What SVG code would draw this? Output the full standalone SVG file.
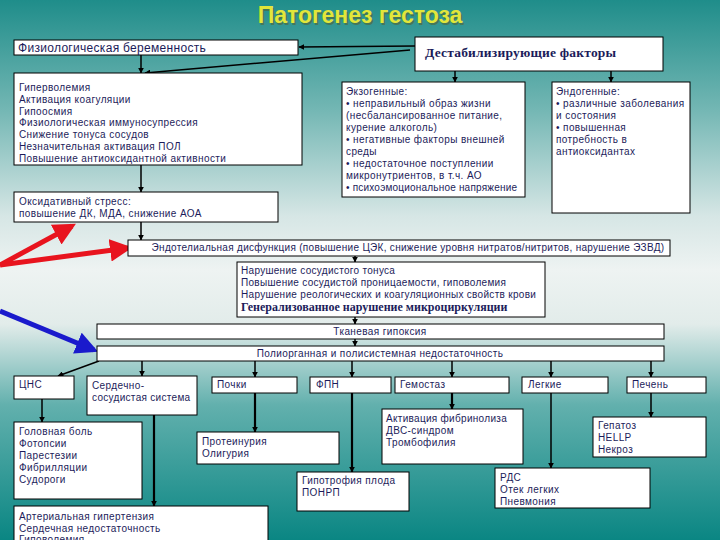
<svg xmlns="http://www.w3.org/2000/svg" width="720" height="540" viewBox="0 0 720 540">
<defs>
<linearGradient id="bg" x1="0" y1="0" x2="0" y2="1">
<stop offset="0" stop-color="#1f8d8a"/>
<stop offset="0.2" stop-color="#72b6b3"/>
<stop offset="0.4" stop-color="#d6e6e5"/>
<stop offset="0.5" stop-color="#eef3f2"/>
<stop offset="0.6" stop-color="#e2ecea"/>
<stop offset="0.75" stop-color="#62b0ad"/>
<stop offset="1" stop-color="#0a8683"/>
</linearGradient>
<marker id="ah" viewBox="0 0 10 10" refX="9" refY="5" markerWidth="6" markerHeight="6" markerUnits="userSpaceOnUse" orient="auto">
<path d="M0,0 L10,5 L0,10 z" fill="#000"/>
</marker>
<marker id="ahr" viewBox="0 0 10 10" refX="8" refY="5" markerWidth="4.5" markerHeight="4.5" orient="auto">
<path d="M0,0 L10,5 L0,10 z" fill="#e8141e"/>
</marker>
<marker id="ahb" viewBox="0 0 10 10" refX="8" refY="5" markerWidth="4.5" markerHeight="4.5" orient="auto">
<path d="M0,0 L10,5 L0,10 z" fill="#1a1acc"/>
</marker>
<style>
.box{fill:#fff;stroke:#000;stroke-width:1}
.t{font-family:"Liberation Sans",Arial,sans-serif;font-size:10px;fill:#1c1c5a;letter-spacing:0.4px}
.s{font-family:"Liberation Serif","Times New Roman",serif;font-weight:bold;fill:#1c1c5a}
.c{stroke:#000;stroke-width:1.5;fill:none;marker-end:url(#ah)}
.ct{stroke:#000;stroke-width:2.2;fill:none;marker-end:url(#ah)}
.mid{text-anchor:middle}
</style>
</defs>
<rect width="720" height="540" fill="url(#bg)"/>
<text x="360" y="23" text-anchor="middle" font-family="Liberation Sans,Arial,sans-serif" font-size="23" font-weight="bold" fill="#5a5a20" opacity="0.5" transform="translate(1.5,1.5)">Патогенез гестоза</text>
<text x="360" y="23" text-anchor="middle" font-family="Liberation Sans,Arial,sans-serif" font-size="23" font-weight="bold" fill="#e2e63a">Патогенез гестоза</text>

<g id="connectors">
<line class="c" x1="415" y1="46" x2="299" y2="47"/>
<line class="c" x1="410" y1="50" x2="145" y2="73"/>
<line class="c" x1="141" y1="55" x2="141" y2="73"/>
<line class="c" x1="455" y1="71" x2="455" y2="82"/>
<line class="c" x1="611" y1="71" x2="611" y2="82"/>
<line class="c" x1="141" y1="165" x2="141" y2="192"/>
<line class="c" x1="141" y1="222" x2="141" y2="240"/>
<line class="c" x1="355" y1="256" x2="355" y2="262"/>
<line class="c" x1="355" y1="317" x2="355" y2="324"/>
<line class="c" x1="355" y1="339" x2="355" y2="346"/>
<line class="c" x1="99" y1="361" x2="58" y2="376"/>
<line class="c" x1="142" y1="361" x2="142" y2="376"/>
<line class="c" x1="255" y1="361" x2="255" y2="377"/>
<line class="c" x1="352" y1="361" x2="352" y2="377"/>
<line class="c" x1="452" y1="361" x2="452" y2="377"/>
<line class="c" x1="551" y1="361" x2="551" y2="377"/>
<line class="c" x1="651" y1="361" x2="651" y2="377"/>
<line class="c" x1="42" y1="399" x2="42" y2="422"/>
<line class="ct" x1="154" y1="415" x2="154" y2="506"/>
<line class="ct" x1="255" y1="393" x2="255" y2="432"/>
<line class="ct" x1="352" y1="393" x2="352" y2="472"/>
<line class="ct" x1="452" y1="393" x2="452" y2="409"/>
<line class="c" x1="551" y1="393" x2="551" y2="468"/>
<line class="c" x1="651" y1="393" x2="651" y2="417"/>
<line stroke="#e8141e" stroke-width="5" marker-end="url(#ahr)" x1="0" y1="265" x2="72" y2="226"/>
<line stroke="#e8141e" stroke-width="5" marker-end="url(#ahr)" x1="0" y1="265" x2="128" y2="248"/>
<line stroke="#1a1acc" stroke-width="5" marker-end="url(#ahb)" x1="0" y1="311" x2="94" y2="350"/>
</g>

<g id="n-fiz"><rect class="box" x="14" y="40" width="284" height="15"/><text class="t" x="18" y="52" style="font-size:12px;letter-spacing:0.3px">Физиологическая беременность</text></g>
<g id="n-dest"><rect class="box" x="415" y="37" width="248" height="34"/><text class="s" x="425" y="57" font-size="13.5" letter-spacing="0.2">Дестабилизирующие факторы</text></g>
<g id="n-giper"><rect class="box" x="14" y="73" width="288" height="92"/>
<text class="t" x="19" y="91">Гиперволемия</text>
<text class="t" x="19" y="103">Активация коагуляции</text>
<text class="t" x="19" y="115">Гипоосмия</text>
<text class="t" x="19" y="126">Физиологическая иммуносупрессия</text>
<text class="t" x="19" y="138">Снижение тонуса сосудов</text>
<text class="t" x="19" y="150">Незначительная активация ПОЛ</text>
<text class="t" x="19" y="162">Повышение антиоксидантной активности</text>
</g>
<g id="n-exo"><rect class="box" x="342" y="82" width="183" height="115"/>
<text class="t" x="346" y="95">Экзогенные:</text>
<text class="t" x="346" y="107">• неправильный образ жизни</text>
<text class="t" x="346" y="119">(несбалансированное питание,</text>
<text class="t" x="346" y="131">курение алкоголь)</text>
<text class="t" x="346" y="143">• негативные факторы внешней</text>
<text class="t" x="346" y="155">среды</text>
<text class="t" x="346" y="167">• недостаточное поступлении</text>
<text class="t" x="346" y="179">микронутриентов, в т.ч. АО</text>
<text class="t" x="346" y="191" style="letter-spacing:0.2px">• психоэмоциональное напряжение</text>
</g>
<g id="n-endo"><rect class="box" x="552" y="82" width="138" height="131"/>
<text class="t" x="556" y="95">Эндогенные:</text>
<text class="t" x="556" y="107">• различные заболевания</text>
<text class="t" x="556" y="119">и состояния</text>
<text class="t" x="556" y="131">• повышенная</text>
<text class="t" x="556" y="143">потребность в</text>
<text class="t" x="556" y="155">антиоксидантах</text>
</g>
<g id="n-oks"><rect class="box" x="14" y="192" width="264" height="30"/>
<text class="t" x="19" y="205">Оксидативный стресс:</text>
<text class="t" x="19" y="217">повышение ДК, МДА, снижение АОА</text>
</g>
<g id="n-endot"><rect class="box" x="128" y="240" width="542" height="16"/>
<text class="t mid" x="408" y="251" style="letter-spacing:0.3px">Эндотелиальная дисфункция (повышение ЦЭК, снижение уровня нитратов/нитритов, нарушение ЭЗВД)</text>
</g>
<g id="n-narush"><rect class="box" x="237" y="262" width="308" height="55"/>
<text class="t" x="241" y="274" style="letter-spacing:0.3px">Нарушение сосудистого тонуса</text>
<text class="t" x="241" y="286" style="letter-spacing:0.3px">Повышение сосудистой проницаемости, гиповолемия</text>
<text class="t" x="241" y="298" style="letter-spacing:0.3px">Нарушение реологических и коагуляционных свойств крови</text>
<text class="s" x="241" y="311" font-size="12">Генерализованное нарушение микроциркуляции</text>
</g>
<g id="n-tkan"><rect class="box" x="97" y="324" width="567" height="15"/>
<text class="t mid" x="380" y="335">Тканевая гипоксия</text></g>
<g id="n-poly"><rect class="box" x="97" y="346" width="567" height="15"/>
<text class="t mid" x="380" y="357">Полиорганная и полисистемная недостаточность</text></g>

<g id="n-cns"><rect class="box" x="14" y="376" width="60" height="23"/><text class="t" x="19" y="388">ЦНС</text></g>
<g id="n-serd"><rect class="box" x="87" y="376" width="110" height="39"/><text class="t" x="92" y="389">Сердечно-</text><text class="t" x="92" y="401" style="letter-spacing:0.3px">сосудистая система</text></g>
<g id="n-pochki"><rect class="box" x="212" y="377" width="85" height="16"/><text class="t" x="217" y="388">Почки</text></g>
<g id="n-fpn"><rect class="box" x="310" y="377" width="81" height="16"/><text class="t" x="316" y="388">ФПН</text></g>
<g id="n-gemo"><rect class="box" x="395" y="377" width="114" height="16"/><text class="t" x="400" y="388">Гемостаз</text></g>
<g id="n-legk"><rect class="box" x="522" y="377" width="86" height="16"/><text class="t" x="528" y="388">Легкие</text></g>
<g id="n-pech"><rect class="box" x="627" y="377" width="79" height="16"/><text class="t" x="632" y="388">Печень</text></g>

<g id="n-golov"><rect class="box" x="14" y="422" width="128" height="77"/>
<text class="t" x="19" y="435">Головная боль</text>
<text class="t" x="19" y="447">Фотопсии</text>
<text class="t" x="19" y="459">Парестезии</text>
<text class="t" x="19" y="471">Фибрилляции</text>
<text class="t" x="19" y="483">Судороги</text>
</g>
<g id="n-prot"><rect class="box" x="197" y="432" width="142" height="32"/>
<text class="t" x="202" y="445">Протеинурия</text>
<text class="t" x="202" y="457">Олигурия</text>
</g>
<g id="n-gipotr"><rect class="box" x="297" y="472" width="112" height="39"/>
<text class="t" x="302" y="484">Гипотрофия плода</text>
<text class="t" x="302" y="496">ПОНРП</text>
</g>
<g id="n-aktiv"><rect class="box" x="382" y="409" width="141" height="55"/>
<text class="t" x="386" y="422" style="letter-spacing:0.3px">Активация фибринолиза</text>
<text class="t" x="386" y="434">ДВС-синдром</text>
<text class="t" x="386" y="446">Тромбофилия</text>
</g>
<g id="n-rds"><rect class="box" x="495" y="468" width="155" height="40"/>
<text class="t" x="500" y="481">РДС</text>
<text class="t" x="500" y="493">Отек легких</text>
<text class="t" x="500" y="505">Пневмония</text>
</g>
<g id="n-gepat"><rect class="box" x="593" y="417" width="113" height="40"/>
<text class="t" x="598" y="429">Гепатоз</text>
<text class="t" x="598" y="441">HELLP</text>
<text class="t" x="598" y="453">Некроз</text>
</g>
<g id="n-arter"><rect class="box" x="14" y="506" width="254" height="40"/>
<text class="t" x="19" y="520">Артериальная гипертензия</text>
<text class="t" x="19" y="532">Сердечная недостаточность</text>
<text class="t" x="19" y="543">Гиповолемия</text>
</g>
</svg>
